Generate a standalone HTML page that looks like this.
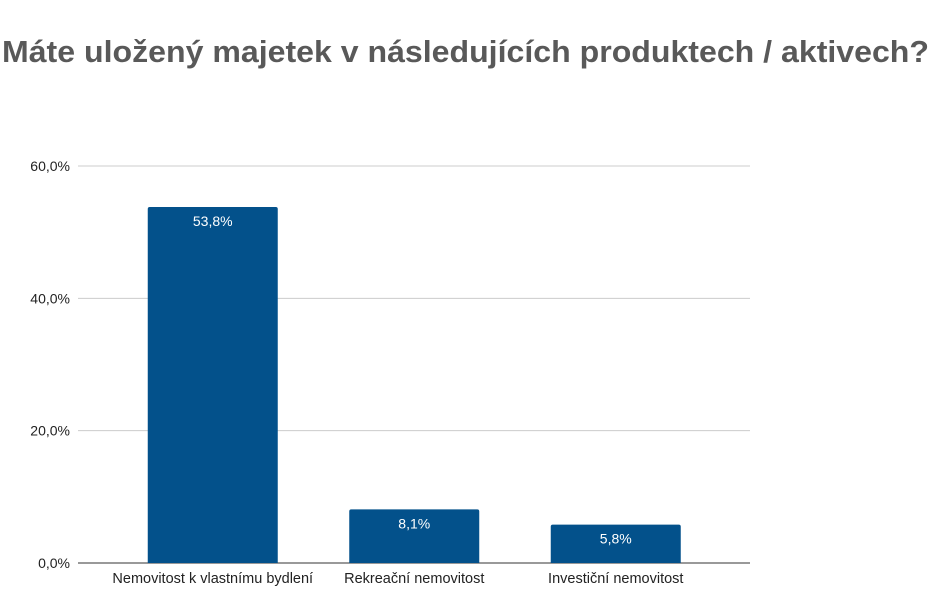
<!DOCTYPE html>
<html><head><meta charset="utf-8"><style>
body{margin:0;background:#fff;width:935px;height:607px;overflow:hidden;font-family:"Liberation Sans",sans-serif}
</style></head><body>
<svg id="c" width="935" height="607">
<text x="2" y="62" font-size="31" font-weight="bold" fill="#595959" textLength="927" lengthAdjust="spacingAndGlyphs">Máte uložený majetek v následujících produktech / aktivech?</text>
</svg>
<script>
const categories=["Nemovitost k vlastnímu bydlení","Rekreační nemovitost","Investiční nemovitost"];
const values=[53.8,8.1,5.8];
const valueLabels=["53,8%","8,1%","5,8%"];
const ticks=[0,20,40,60];
const tickLabels=["0,0%","20,0%","40,0%","60,0%"];
const svg=document.getElementById('c');
const NS="http://www.w3.org/2000/svg";
const y0=563,yTop=166,yMax=60,x0=78,x1=750,bandStart=112,band=201.5,bw=130;
const y=v=>y0-(v/yMax)*(y0-yTop);
const xc=i=>bandStart+band*(i+0.5);
function mk(t,a){const e=document.createElementNS(NS,t);for(const k in a)e.setAttribute(k,a[k]);svg.appendChild(e);return e;}
ticks.forEach((t,i)=>{
 const l=mk('line',{x1:x0,x2:x1,y1:y(t),y2:y(t),stroke:t===0?'#333':'#ccc','stroke-width':1});
 
 
 const tx=mk('text',{x:70,y:y(t)+5,'text-anchor':'end','font-size':14,fill:'#222'});
 tx.textContent=tickLabels[i];
 
 
});
values.forEach((v,i)=>{
 const r=mk('path',{d:`M${xc(i)-bw/2},${y0} V${y(v)+2} Q${xc(i)-bw/2},${y(v)} ${xc(i)-bw/2+2},${y(v)} H${xc(i)+bw/2-2} Q${xc(i)+bw/2},${y(v)} ${xc(i)+bw/2},${y(v)+2} V${y0} Z`,fill:'#03518b'});
 
 
 const t=mk('text',{x:xc(i),y:y(v)+19,'text-anchor':'middle','font-size':14,fill:'#fff'});
 t.textContent=valueLabels[i];
 
 
 const c=mk('text',{x:xc(i),y:583,'text-anchor':'middle','font-size':14.5,fill:'#222'});
 c.textContent=categories[i];
 
 
});
</script>
</body></html>
